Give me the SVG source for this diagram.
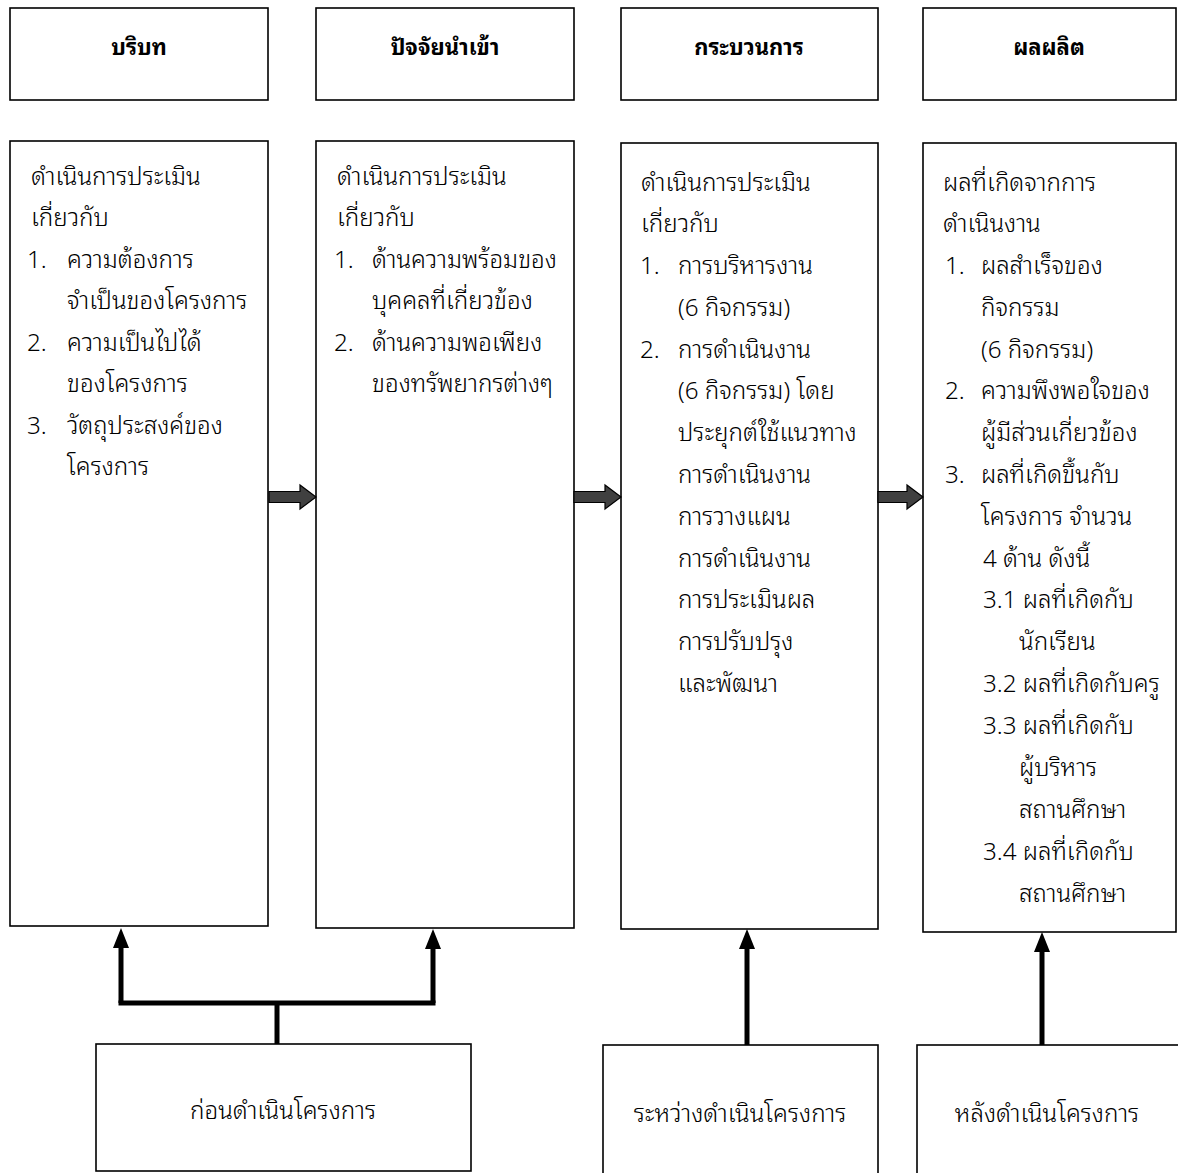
<svg xmlns="http://www.w3.org/2000/svg" width="1178" height="1173" viewBox="0 0 1178 1173">
<style>
.box{fill:#fff;stroke:#000;stroke-width:1.6}
.t{font-family:"Noto Sans Thai Looped","Tahoma","Loma","Garuda","Sawasdee","Noto Sans Thai","Noto Sans",sans-serif;font-size:24.2px;font-weight:300;fill:#000}
.h{font-family:"Noto Sans Thai Looped","Tahoma","Loma","Garuda","Sawasdee","Noto Sans Thai","Noto Sans",sans-serif;font-size:22px;font-weight:bold;fill:#000;text-anchor:middle}
.c{text-anchor:middle}
.conn{stroke:#000;stroke-width:5;fill:none}
.blk{fill:#404040;stroke:#000;stroke-width:1.2}
</style>
<rect width="1178" height="1173" fill="#fff"/>

<g id="h1"><rect class="box" x="10" y="8" width="258" height="92"/><text class="h" x="139" y="55">บริบท</text></g>
<g id="h2"><rect class="box" x="316" y="8" width="258" height="92"/><text class="h" x="445" y="55">ปัจจัยนำเข้า</text></g>
<g id="h3"><rect class="box" x="621" y="8" width="257" height="92"/><text class="h" x="749" y="55">กระบวนการ</text></g>
<g id="h4"><rect class="box" x="923" y="8" width="253" height="92"/><text class="h" x="1049" y="55">ผลผลิต</text></g>

<g id="c1"><rect class="box" x="10" y="141" width="258" height="785"/>
<text class="t"><tspan x="31" y="185">ดำเนินการประเมิน</tspan><tspan x="31" y="226">เกี่ยวกับ</tspan>
<tspan x="27" y="268">1.</tspan><tspan x="67" y="268">ความต้องการ</tspan><tspan x="67" y="309">จำเป็นของโครงการ</tspan>
<tspan x="27" y="351">2.</tspan><tspan x="67" y="351">ความเป็นไปได้</tspan><tspan x="67" y="392">ของโครงการ</tspan>
<tspan x="27" y="434">3.</tspan><tspan x="67" y="434">วัตถุประสงค์ของ</tspan><tspan x="67" y="475">โครงการ</tspan></text></g>

<g id="c2"><rect class="box" x="316" y="141" width="258" height="787"/>
<text class="t"><tspan x="337" y="185">ดำเนินการประเมิน</tspan><tspan x="337" y="226">เกี่ยวกับ</tspan>
<tspan x="334" y="268">1.</tspan><tspan x="372" y="268">ด้านความพร้อมของ</tspan><tspan x="372" y="309">บุคคลที่เกี่ยวข้อง</tspan>
<tspan x="334" y="351">2.</tspan><tspan x="372" y="351">ด้านความพอเพียง</tspan><tspan x="372" y="392">ของทรัพยากรต่างๆ</tspan></text></g>

<g id="c3"><rect class="box" x="621" y="143" width="257" height="786"/>
<text class="t"><tspan x="641" y="191">ดำเนินการประเมิน</tspan><tspan x="641" y="232">เกี่ยวกับ</tspan>
<tspan x="640" y="274">1.</tspan><tspan x="678" y="274">การบริหารงาน</tspan><tspan x="678" y="316">(6 กิจกรรม)</tspan>
<tspan x="640" y="358">2.</tspan><tspan x="678" y="358">การดำเนินงาน</tspan><tspan x="678" y="399">(6 กิจกรรม) โดย</tspan>
<tspan x="678" y="441">ประยุกต์ใช้แนวทาง</tspan><tspan x="678" y="483">การดำเนินงาน</tspan><tspan x="678" y="525">การวางแผน</tspan>
<tspan x="678" y="567">การดำเนินงาน</tspan><tspan x="678" y="608">การประเมินผล</tspan><tspan x="678" y="650">การปรับปรุง</tspan><tspan x="678" y="692">และพัฒนา</tspan></text></g>

<g id="c4"><rect class="box" x="923" y="143" width="253" height="789"/>
<text class="t"><tspan x="943" y="191">ผลที่เกิดจากการ</tspan><tspan x="943" y="232">ดำเนินงาน</tspan>
<tspan x="945" y="274">1.</tspan><tspan x="981" y="274">ผลสำเร็จของ</tspan><tspan x="981" y="316">กิจกรรม</tspan><tspan x="981" y="358">(6 กิจกรรม)</tspan>
<tspan x="945" y="399">2.</tspan><tspan x="981" y="399">ความพึงพอใจของ</tspan><tspan x="981" y="441">ผู้มีส่วนเกี่ยวข้อง</tspan>
<tspan x="945" y="483">3.</tspan><tspan x="981" y="483">ผลที่เกิดขึ้นกับ</tspan><tspan x="981" y="525">โครงการ จำนวน</tspan>
<tspan x="983" y="567">4 ด้าน ดังนี้</tspan><tspan x="983" y="608">3.1 ผลที่เกิดกับ</tspan><tspan x="1019" y="650">นักเรียน</tspan>
<tspan x="983" y="692">3.2 ผลที่เกิดกับครู</tspan><tspan x="983" y="734">3.3 ผลที่เกิดกับ</tspan><tspan x="1019" y="776">ผู้บริหาร</tspan>
<tspan x="1019" y="818">สถานศึกษา</tspan><tspan x="983" y="860">3.4 ผลที่เกิดกับ</tspan><tspan x="1019" y="902">สถานศึกษา</tspan></text></g>

<g id="b1"><rect class="box" x="96" y="1044" width="375" height="127"/><text class="t c" x="283" y="1119">ก่อนดำเนินโครงการ</text></g>
<g id="b2"><rect class="box" x="603" y="1045" width="275" height="140"/><text class="t c" x="740" y="1122">ระหว่างดำเนินโครงการ</text></g>
<g id="b3"><rect class="box" x="917" y="1045" width="270" height="140"/><text class="t c" x="1047" y="1122">หลังดำเนินโครงการ</text></g>

<g id="connectors">
<path class="blk" d="M269,491.5 H300 V485 L316,497 L300,509 V502.5 H269 Z"/>
<path class="blk" d="M574,491.5 H605 V485 L621,497 L605,509 V502.5 H574 Z"/>
<path class="blk" d="M878,491.5 H907 V485 L923,497 L907,509 V502.5 H878 Z"/>
<path class="conn" d="M277,1044 V1003"/>
<path class="conn" d="M118.5,1003 H435.5"/>
<path class="conn" d="M121,1003 V946"/>
<polygon points="121,928 113,948 129,948" fill="#000"/>
<path class="conn" d="M433,1003 V948"/>
<polygon points="433,929 425,949 441,949" fill="#000"/>
<path class="conn" d="M747,1045 V948"/>
<polygon points="747,929 739,949 755,949" fill="#000"/>
<path class="conn" d="M1042,1045 V951"/>
<polygon points="1042,932 1034,952 1050,952" fill="#000"/>
</g>
</svg>
